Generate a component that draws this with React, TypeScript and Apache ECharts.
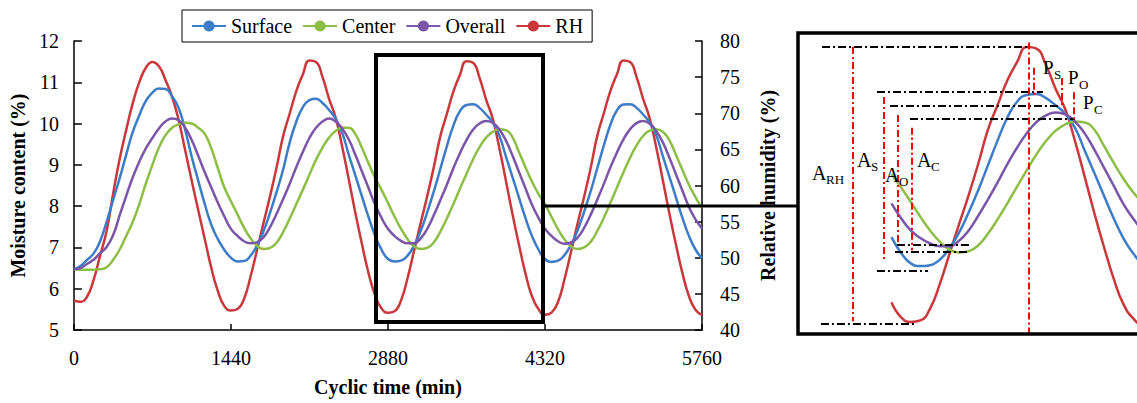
import React, { useEffect, useRef } from "react";
import * as echarts from "echarts";

// ---------- data (60-min steps, 0..5760 min) ----------
const timeStep = 60;
const seriesNames = ["Surface", "Center", "Overall", "RH"];
const xTickStep = 1440;

const surface = [
  6.47, 6.55, 6.70, 6.85, 7.15, 7.62, 8.15, 8.68, 9.25, 9.80, 10.20, 10.55, 10.75, 10.85, 10.84, 10.66, 10.38, 9.85, 9.20, 8.62, 8.05, 7.55, 7.20, 6.94,
  6.75, 6.66, 6.67, 6.80, 7.05, 7.40, 7.85, 8.35, 8.90, 9.55, 10.05, 10.40, 10.57, 10.60, 10.50, 10.33, 10.12, 9.78, 9.25, 8.75, 8.25, 7.75, 7.30, 6.95,
  6.72, 6.66, 6.68, 6.80, 7.05, 7.40, 7.85, 8.35, 8.90, 9.45, 9.95, 10.30, 10.45, 10.47, 10.38, 10.22, 10.03, 9.72, 9.22, 8.72, 8.22, 7.72, 7.28, 6.95,
  6.72, 6.65, 6.68, 6.82, 7.07, 7.42, 7.87, 8.37, 8.92, 9.47, 9.97, 10.32, 10.46, 10.47, 10.38, 10.22, 10.03, 9.72, 9.22, 8.72, 8.22, 7.72, 7.28, 6.95, 6.74,
];
const center = [
  6.47, 6.46, 6.46, 6.46, 6.47, 6.52, 6.70, 6.95, 7.28, 7.62, 8.05, 8.55, 9.00, 9.42, 9.72, 9.90, 9.98, 10.02, 10.00, 9.90, 9.75, 9.40, 8.92, 8.45,
  8.12, 7.80, 7.48, 7.22, 7.04, 6.96, 6.99, 7.12, 7.38, 7.70, 8.05, 8.40, 8.76, 9.12, 9.42, 9.66, 9.82, 9.90, 9.90, 9.75, 9.42, 9.05, 8.70, 8.40,
  8.08, 7.75, 7.45, 7.20, 7.03, 6.96, 6.99, 7.12, 7.38, 7.70, 8.05, 8.42, 8.78, 9.13, 9.43, 9.66, 9.80, 9.86, 9.84, 9.68, 9.32, 8.95, 8.60, 8.30,
  8.05, 7.74, 7.44, 7.19, 7.02, 6.96, 7.00, 7.14, 7.40, 7.72, 8.08, 8.45, 8.82, 9.17, 9.47, 9.70, 9.83, 9.86, 9.80, 9.60, 9.25, 8.88, 8.52, 8.22, 7.95,
];
const overall = [
  6.47, 6.50, 6.60, 6.70, 6.86, 7.01, 7.30, 7.78, 8.25, 8.70, 9.08, 9.40, 9.65, 9.88, 10.05, 10.12, 10.08, 9.90, 9.60, 9.22, 8.82, 8.45, 8.08, 7.75,
  7.45, 7.28, 7.15, 7.10, 7.13, 7.25, 7.50, 7.82, 8.18, 8.55, 8.95, 9.32, 9.65, 9.90, 10.05, 10.12, 10.05, 9.88, 9.62, 9.25, 8.85, 8.45, 8.05, 7.72,
  7.45, 7.28, 7.16, 7.10, 7.10, 7.22, 7.45, 7.78, 8.14, 8.52, 8.92, 9.28, 9.60, 9.85, 10.00, 10.06, 10.02, 9.86, 9.60, 9.24, 8.84, 8.44, 8.04, 7.72,
  7.45, 7.28, 7.15, 7.09, 7.12, 7.24, 7.48, 7.80, 8.16, 8.54, 8.94, 9.30, 9.62, 9.86, 10.01, 10.06, 10.00, 9.82, 9.55, 9.18, 8.78, 8.38, 7.98, 7.68, 7.46,
];
const rh = [
  44.1, 43.9, 44.6, 46.9, 50.3, 53.7, 58.9, 63.7, 67.7, 71.4, 74.3, 76.3, 77.1, 76.5, 74.6, 72.3, 69.1, 64.9, 60.7, 56.6, 52.6, 48.6, 45.4, 43.3,
  42.7, 42.9, 44.3, 47.4, 51.1, 54.9, 58.6, 62.6, 66.9, 70.0, 73.1, 75.4, 77.3, 77.1, 75.0, 72.0, 69.4, 65.4, 60.9, 56.3, 52.0, 48.0, 44.9, 43.0,
  42.4, 42.6, 44.1, 47.2, 51.0, 54.8, 58.5, 62.5, 66.8, 69.9, 73.0, 75.3, 77.2, 77.0, 74.9, 71.9, 69.3, 65.3, 60.8, 56.2, 51.9, 47.9, 44.7, 42.9,
  42.1, 42.4, 43.9, 47.1, 50.9, 54.8, 58.5, 62.5, 66.9, 70.0, 73.1, 75.4, 77.3, 77.1, 75.0, 72.0, 69.3, 65.3, 60.8, 56.2, 51.9, 47.9, 44.7, 42.8, 42.1,
];

// inset (zoomed schematic) window, in minutes
const insetXRange = [2192, 4285];
const insetStart = 2760;

// annotation levels in the inset: [t1, t2, RH level]
const amplitudeLevels = [
  [2329, 3608, 77.2],
  [2670, 3701, 71.5],
  [2751, 3807, 69.8],
  [2875, 3900, 68.1],
  [2322, 2919, 42.2],
  [2670, 2987, 48.9],
  [2794, 3260, 52.2],
  [2782, 3248, 51.3],
];
// vertical markers: [t, RH top, RH bottom]
const amplitudeMarkers = [
  [2521, 77.2, 42.5],
  [2714, 70.9, 50.0],
  [2801, 68.6, 52.5],
  [2888, 67.0, 51.5],
  [3614, 77.8, 41.0],
  [3645, 74.6, 70.8],
  [3819, 73.3, 69.5],
  [3894, 71.5, 67.7],
];
// labels: [main letter, subscript, x, y]
const annotationLabels: [string, string, number, number][] = [
  ["A", "RH", 812, 163],
  ["A", "S", 857, 150],
  ["A", "O", 885, 165],
  ["A", "C", 917, 150],
  ["P", "S", 1043, 58],
  ["P", "O", 1068, 68],
  ["P", "C", 1083, 93],
];

const COLORS = ["#3D7CC6", "#8DBE45", "#7B55A8", "#C9383B"];
const FONT = "'Liberation Serif', 'Times New Roman', serif";

const pairs = (vals: number[]) => vals.map((v, i) => [i * timeStep, v]);
const insetPairs = (vals: number[]) => pairs(vals).filter((p) => p[0] >= insetStart);

export default function App() {
  const ref = useRef<HTMLDivElement>(null);
  useEffect(() => {
    if (!ref.current) return;
    const chart = echarts.init(ref.current, undefined, { renderer: "svg" });
    const values = [surface, center, overall, rh];

    const axisLine = { show: true, lineStyle: { color: "#000", width: 1.5 } };
    const axisLabel = { color: "#000", fontSize: 20, fontFamily: FONT };
    const nameStyle = { color: "#000", fontSize: 20, fontWeight: "bold", fontFamily: FONT };

    const mainSeries = values.map((vals, i) => ({
      name: seriesNames[i],
      type: "line",
      xAxisIndex: 0,
      yAxisIndex: i === 3 ? 1 : 0,
      data: pairs(vals),
      smooth: 0.5,
      symbol: "none",
      lineStyle: { color: COLORS[i], width: 2.5 },
      itemStyle: { color: COLORS[i] },
      z: i === 3 ? 2 : 3,
    }));

    const blackDash = { color: "#000", width: 2, type: [8, 3, 2, 3] };
    const redDash = { color: "#FF0000", width: 2, type: [7, 3, 2, 3] };
    const markData: any[] = [
      ...amplitudeLevels.map(([t1, t2, v]) => [
        { coord: [t1, v], lineStyle: blackDash },
        { coord: [t2, v] },
      ]),
      ...amplitudeMarkers.map(([t, v1, v2]) => [
        { coord: [t, v1], lineStyle: redDash },
        { coord: [t, v2] },
      ]),
    ];

    const insetSeries = values.map((vals, i) => ({
      name: seriesNames[i],
      type: "line",
      xAxisIndex: 1,
      yAxisIndex: i === 3 ? 3 : 2,
      data: insetPairs(vals),
      smooth: 0.5,
      symbol: "none",
      lineStyle: { color: COLORS[i], width: 2.5 },
      itemStyle: { color: COLORS[i] },
      z: i === 3 ? 2 : 3,
      markLine:
        i === 3
          ? { silent: true, symbol: ["none", "none"], label: { show: false }, data: markData, z: 5 }
          : undefined,
    }));

    const labelEls: any[] = [];
    annotationLabels.forEach(([main, sub, x, y]) => {
      const big = main === "A" ? 20 : 19;
      labelEls.push({
        type: "text",
        x,
        y,
        z: 20,
        style: { text: main, fontSize: big, fontFamily: FONT, fill: "#000", align: "left", verticalAlign: "top" },
      });
      labelEls.push({
        type: "text",
        x: x + (main === "A" ? 14 : 11),
        y: y + 10,
        z: 20,
        style: { text: sub, fontSize: 13, fontFamily: FONT, fill: "#000", align: "left", verticalAlign: "top" },
      });
    });

    const option: any = {
      animation: false,
      backgroundColor: "#fff",
      textStyle: { fontFamily: FONT },
      legend: {
        data: seriesNames,
        left: 182,
        top: 10,
        padding: [6, 9],
        itemGap: 10,
        itemWidth: 34,
        itemHeight: 14,
        borderColor: "#000",
        borderWidth: 1,
        textStyle: { color: "#000", fontSize: 20, fontFamily: FONT },
      },
      grid: [
        { left: 68, top: 41, width: 634, height: 289 },
        { left: 800, top: 25, width: 337, height: 316 },
      ],
      xAxis: [
        {
          type: "value",
          gridIndex: 0,
          min: 0,
          max: 5760,
          interval: xTickStep,
          axisLine,
          axisTick: { show: true, inside: true, length: 6, lineStyle: { color: "#000", width: 1.5 } },
          axisLabel: { ...axisLabel, margin: 18, formatter: (v: number) => String(v) },
          splitLine: { show: false },
          name: "Cyclic time (min)",
          nameLocation: "middle",
          nameGap: 47,
          nameTextStyle: nameStyle,
        },
        { type: "value", gridIndex: 1, min: insetXRange[0], max: insetXRange[1], show: false, splitLine: { show: false } },
      ],
      yAxis: [
        {
          type: "value",
          gridIndex: 0,
          min: 5,
          max: 12,
          interval: 1,
          axisLine,
          axisTick: { show: true, inside: true, length: 8, lineStyle: { color: "#000", width: 1.5 } },
          axisLabel: { ...axisLabel, margin: 15 },
          splitLine: { show: false },
          name: "Moisture content (%)",
          nameLocation: "middle",
          nameRotate: 90,
          nameGap: 41,
          nameTextStyle: nameStyle,
        },
        {
          type: "value",
          gridIndex: 0,
          position: "right",
          min: 40,
          max: 80,
          interval: 5,
          axisLine,
          axisTick: { show: true, inside: true, length: 7, lineStyle: { color: "#000", width: 1.5 } },
          axisLabel: { ...axisLabel, margin: 18 },
          splitLine: { show: false },
          name: "Relative humidity (%)",
          nameLocation: "middle",
          nameRotate: 90,
          nameGap: 56,
          nameTextStyle: nameStyle,
        },
        { type: "value", gridIndex: 1, min: 5, max: 12, show: false, splitLine: { show: false } },
        { type: "value", gridIndex: 1, min: 40, max: 80, show: false, splitLine: { show: false } },
      ],
      graphic: [
        {
          type: "rect",
          z: 10,
          shape: { x: 376, y: 55, width: 167, height: 267 },
          style: { fill: "none", stroke: "#000", lineWidth: 4 },
        },
        {
          type: "line",
          z: 10,
          shape: { x1: 543, y1: 206, x2: 798, y2: 206 },
          style: { stroke: "#000", lineWidth: 3 },
        },
        {
          type: "rect",
          z: 10,
          shape: { x: 798, y: 33, width: 380, height: 301 },
          style: { fill: "none", stroke: "#000", lineWidth: 3.5 },
        },
        ...labelEls,
      ],
      series: [...mainSeries, ...insetSeries],
    };
    chart.setOption(option);
    return () => chart.dispose();
  }, []);
  return <div ref={ref} style={{ position: "absolute", left: 0, top: 0, width: 1137, height: 403 }} />;
}
